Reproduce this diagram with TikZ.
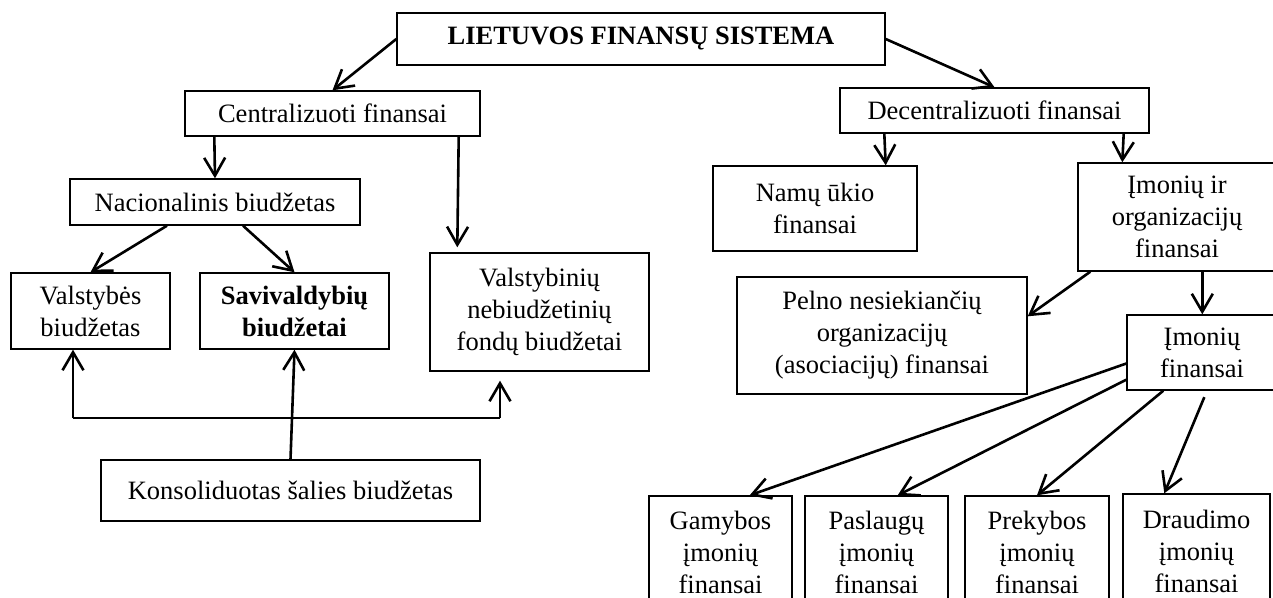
\documentclass[tikz,border=0pt]{standalone}
\usepackage{fontspec}
\setmainfont{Liberation Serif}
\usetikzlibrary{arrows.meta}

\begin{document}
\begin{tikzpicture}[x=0.5pt,y=-0.5pt]
      \useasboundingbox (0,0) rectangle (1273,598);
      \clip (0,0) rectangle (1273,598);
      \begin{scope}[every node/.style={draw=black,rectangle,line width=0.7pt,inner sep=0pt,align=center,
          font=\fontsize{13.25}{16}\selectfont}]
        \node[minimum width=244pt,minimum height=26pt] (title) at (641,39) {\textbf{LIETUVOS FINANSŲ SISTEMA}};
        \node[minimum width=147.5pt,minimum height=22.5pt] (central) at (332.5,113.5) {Centralizuoti finansai};
        \node[minimum width=154.5pt,minimum height=22.5pt] (decentral) at (994.5,110.5) {Decentralizuoti finansai};
        \node[minimum width=145pt,minimum height=23pt] (nac) at (215,202) {Nacionalinis biudžetas};
        \node[minimum width=79.5pt,minimum height=38pt] (valst) at (90.5,311) {Valstybės\\biudžetas};
        \node[minimum width=94.5pt,minimum height=38pt] (saviv) at (294.5,311) {\textbf{Savivaldybių}\\\textbf{biudžetai}};
        \node[minimum width=109.5pt,minimum height=59pt] (fondai) at (539.5,312) {Valstybinių\\nebiudžetinių\\fondų biudžetai};
        \node[minimum width=189.5pt,minimum height=30.5pt] (konsol) at (290.5,490.5) {Konsoliduotas šalies biudžetas};
        \node[minimum width=102pt,minimum height=42.5pt] (namu) at (815,208.5) {Namų ūkio\\finansai};
        \node[minimum width=99pt,minimum height=54pt] (imorg) at (1177,217) {Įmonių ir\\organizacijų\\finansai};
        \node[minimum width=145pt,minimum height=58.5pt] (pelno) at (882,335.5) {Pelno nesiekiančių\\organizacijų\\(asociacijų) finansai};
        \node[minimum width=75pt,minimum height=37.5pt] (imfin) at (1202,352.5) {Įmonių\\finansai};
        \node[minimum width=71.5pt,minimum height=56pt] (gamyb) at (720.5,552) {Gamybos\\įmonių\\finansai};
        \node[minimum width=71.5pt,minimum height=56pt] (paslaug) at (876.5,552) {Paslaugų\\įmonių\\finansai};
        \node[minimum width=72pt,minimum height=56pt] (prekyb) at (1037,552) {Prekybos\\įmonių\\finansai};
        \node[minimum width=73.5pt,minimum height=57pt] (draud) at (1196.5,551) {Draudimo\\įmonių\\finansai};
      \end{scope}
      \coordinate (kl) at (73,418);
      \coordinate (kr) at (500,418);
      \begin{scope}[every edge/.style={draw=black,line width=1.3pt,-{Straight Barb[length=9pt,width=10.5pt]}}]
        \path (title.west) edge (central.north);
        \path (title.east) edge (decentral.north);
        \path ([xshift=15pt]central.south west) edge (nac.north);
        \path ([xshift=-11pt]central.south east) edge ([xshift=14pt,yshift=2.5pt]fondai.north west);
        \path ([xshift=-24pt]nac.south) edge (valst.north);
        \path ([xshift=14pt]nac.south) edge (saviv.north);
        \path (konsol.north) edge (saviv.south);
        \path (kl) edge (kl |- valst.south);
        \path (kr) edge[shorten >=4.5pt] (kr |- fondai.south);
        \path ([xshift=22.5pt]decentral.south west) edge ([xshift=-16pt]namu.north east);
        \path ([xshift=-13pt]decentral.south east) edge ([xshift=22.5pt]imorg.north west);
        \path ([xshift=6.5pt]imorg.south west) edge ([yshift=-20pt]pelno.north east);
        \path ([xshift=62.5pt]imorg.south west) edge ([xshift=38pt]imfin.north west);
        \path ([yshift=-5.5pt]imfin.west) edge ([xshift=-21.5pt]gamyb.north east);
        \path ([yshift=5.5pt]imfin.south west) edge ([xshift=-25.5pt]paslaug.north east);
        \path ([xshift=18.5pt]imfin.south west) edge (prekyb.north);
        \path ([xshift=2.5pt]imfin.south) edge[shorten <=3.5pt] ([xshift=21pt]draud.north west);
      \end{scope}
      \draw[line width=1.3pt] (kl) -- (kr);
    \end{tikzpicture}
\end{document}
